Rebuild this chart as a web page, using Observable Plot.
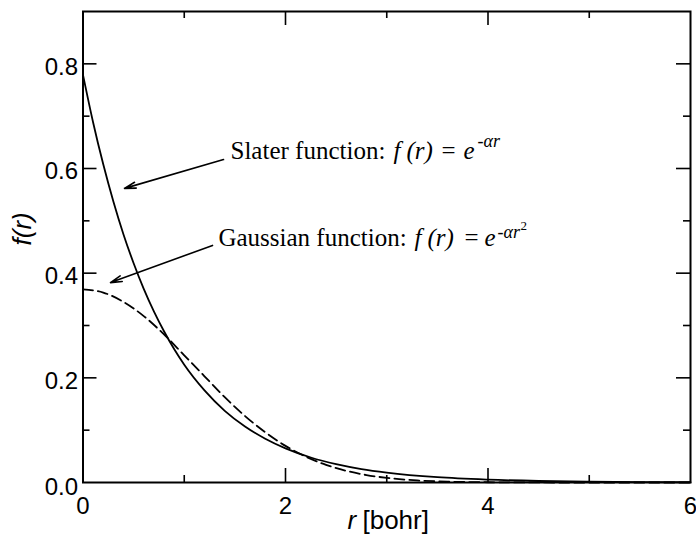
<!DOCTYPE html>
<html>
<head>
<meta charset="utf-8">
<script src="https://cdn.jsdelivr.net/npm/d3@7"></script>
<script src="https://cdn.jsdelivr.net/npm/@observablehq/plot@0.6"></script>
<style>
  html, body { margin: 0; padding: 0; background: #fff; }
</style>
</head>
<body>
<div id="chart"></div>
<script>
// Slater-type orbital (solid line)
const rSlater = [0, 0.1, 0.2, 0.3, 0.4, 0.5, 0.6, 0.7, 0.8, 0.9, 1.0, 1.2, 1.4, 1.6, 1.8, 2.0, 2.25, 2.5, 2.75, 3.0, 3.5, 4.0, 4.5, 5.0, 5.5, 6.0];
const fSlater = [0.779, 0.688, 0.608, 0.537, 0.474, 0.419, 0.370, 0.327, 0.289, 0.255, 0.225, 0.176, 0.137, 0.107, 0.0836, 0.0652, 0.0478, 0.0351, 0.0257, 0.0189, 0.0101, 0.0055, 0.0029, 0.0016, 0.0009, 0.0005];

// Gaussian-type orbital (dashed line)
const rGauss = [0, 0.2, 0.4, 0.6, 0.8, 1.0, 1.2, 1.4, 1.6, 1.8, 2.0, 2.2, 2.4, 2.6, 2.8, 3.0, 3.3, 3.6, 4.0, 4.5, 5.0, 6.0];
const fGauss = [0.369, 0.363, 0.345, 0.318, 0.283, 0.243, 0.203, 0.163, 0.127, 0.096, 0.070, 0.0494, 0.0337, 0.0223, 0.0142, 0.0088, 0.0040, 0.0017, 0.0005, 0.0001, 0, 0];

// Axis ticks
const xMajor = [0, 2, 4, 6];
const xMinor = [1, 3, 5];
const yMajor = [0, 0.2, 0.4, 0.6, 0.8];
const yMinor = [0.1, 0.3, 0.5, 0.7];

// Annotation texts
const slaterName = "Slater function:";
const gaussName = "Gaussian function:";

const slater = rSlater.map((r, i) => ({r, f: fSlater[i]}));
const gauss = rGauss.map((r, i) => ({r, f: fGauss[i]}));

const W = 696, H = 539;
const mL = 82.5, mR = 6, mT = 11, mB = 57;
const pw = W - mL - mR, ph = H - mT - mB;
const sans = "'Liberation Sans', Arial, Helvetica, sans-serif";
const serif = "'Liberation Serif', 'Times New Roman', Times, serif";
const majorLen = 14, minorLen = 7;
const annFont = 25, supFont = 18;

const chart = Plot.plot({
  width: W,
  height: H,
  marginLeft: mL,
  marginRight: mR,
  marginTop: mT,
  marginBottom: mB,
  style: {fontFamily: sans, fontSize: "24px", color: "#000", background: "#fff"},
  x: {domain: [0, 6]},
  y: {domain: [0, 0.9]},
  marks: [
    // inward ticks
    Plot.tickY(yMajor.filter(d => d > 0), {y: d => d, insetRight: pw - majorLen, strokeWidth: 1.6}),
    Plot.tickY(yMinor, {y: d => d, insetRight: pw - minorLen, strokeWidth: 1.6}),
    Plot.tickY(yMajor.filter(d => d > 0), {y: d => d, insetLeft: pw - majorLen, strokeWidth: 1.6}),
    Plot.tickY(yMinor, {y: d => d, insetLeft: pw - minorLen, strokeWidth: 1.6}),
    Plot.tickX(xMajor.filter(d => d > 0 && d < 6), {x: d => d, insetTop: ph - majorLen, strokeWidth: 1.6}),
    Plot.tickX(xMinor, {x: d => d, insetTop: ph - minorLen, strokeWidth: 1.6}),
    Plot.tickX(xMajor.filter(d => d > 0 && d < 6), {x: d => d, insetBottom: ph - majorLen, strokeWidth: 1.6}),
    Plot.tickX(xMinor, {x: d => d, insetBottom: ph - minorLen, strokeWidth: 1.6}),
    // axes labels
    Plot.axisX({ticks: xMajor, tickSize: 0, tickPadding: 14, tickFormat: d3.format("d"), label: null, fontSize: 24}),
    Plot.axisY({ticks: yMajor.filter(d => d > 0), tickSize: 0, tickPadding: 5, tickFormat: d3.format(".1f"), label: null, fontSize: 24, dy: 3}),
    Plot.axisY({ticks: [0], tickSize: 0, tickPadding: 5, tickFormat: d3.format(".1f"), label: null, fontSize: 24, dy: 5}),
    Plot.frame({stroke: "#000", strokeWidth: 2}),
    // curves
    Plot.line(slater, {x: "r", y: "f", stroke: "#000", strokeWidth: 1.8, curve: "monotone-x"}),
    Plot.line(gauss, {x: "r", y: "f", stroke: "#000", strokeWidth: 1.8, strokeDasharray: "10,5", curve: "monotone-x"}),
    // arrows
    Plot.arrow([0], {x1: 1.388, y1: 0.617, x2: 0.41, y2: 0.562, stroke: "#000", strokeWidth: 1.6, headLength: 11, headAngle: 30}),
    Plot.arrow([0], {x1: 1.279, y1: 0.453, x2: 0.272, y2: 0.382, stroke: "#000", strokeWidth: 1.6, headLength: 11, headAngle: 30}),
    // Slater annotation
    Plot.text([slaterName], {x: 1.457, y: 0.619, text: d => d, textAnchor: "start", lineAnchor: "bottom", fontFamily: serif, fontSize: annFont}),
    Plot.text(["f"], {x: 1.457, y: 0.619, text: d => d, dx: 163, textAnchor: "start", lineAnchor: "bottom", fontFamily: serif, fontStyle: "italic", fontSize: annFont}),
    Plot.text(["(r)"], {x: 1.457, y: 0.619, text: d => d, dx: 176, textAnchor: "start", lineAnchor: "bottom", fontFamily: serif, fontStyle: "italic", fontSize: annFont}),
    Plot.text(["="], {x: 1.457, y: 0.619, text: d => d, dx: 211, textAnchor: "start", lineAnchor: "bottom", fontFamily: serif, fontSize: annFont}),
    Plot.text(["e"], {x: 1.457, y: 0.619, text: d => d, dx: 233, textAnchor: "start", lineAnchor: "bottom", fontFamily: serif, fontStyle: "italic", fontSize: annFont}),
    Plot.text(["-αr"], {x: 1.457, y: 0.619, text: d => d, dx: 247, dy: -12, textAnchor: "start", lineAnchor: "bottom", fontFamily: serif, fontStyle: "italic", fontSize: supFont}),
    // Gaussian annotation
    Plot.text([gaussName], {x: 1.338, y: 0.451, text: d => d, textAnchor: "start", lineAnchor: "bottom", fontFamily: serif, fontSize: annFont}),
    Plot.text(["f"], {x: 1.338, y: 0.451, text: d => d, dx: 196, textAnchor: "start", lineAnchor: "bottom", fontFamily: serif, fontStyle: "italic", fontSize: annFont}),
    Plot.text(["(r)"], {x: 1.338, y: 0.451, text: d => d, dx: 209, textAnchor: "start", lineAnchor: "bottom", fontFamily: serif, fontStyle: "italic", fontSize: annFont}),
    Plot.text(["="], {x: 1.338, y: 0.451, text: d => d, dx: 246, textAnchor: "start", lineAnchor: "bottom", fontFamily: serif, fontSize: annFont}),
    Plot.text(["e"], {x: 1.338, y: 0.451, text: d => d, dx: 266, textAnchor: "start", lineAnchor: "bottom", fontFamily: serif, fontStyle: "italic", fontSize: annFont}),
    Plot.text(["-αr"], {x: 1.338, y: 0.451, text: d => d, dx: 279, dy: -8, textAnchor: "start", lineAnchor: "bottom", fontFamily: serif, fontStyle: "italic", fontSize: supFont}),
    Plot.text(["2"], {x: 1.338, y: 0.451, text: d => d, dx: 302, dy: -16, textAnchor: "start", lineAnchor: "bottom", fontFamily: serif, fontSize: 13}),
    // axis titles
    Plot.text(["r"], {x: 2.612, frameAnchor: "bottom", dy: 46, text: d => d, textAnchor: "start", fontStyle: "italic", fontSize: 26}),
    Plot.text(["[bohr]"], {x: 2.612, frameAnchor: "bottom", dy: 46, dx: 15, text: d => d, textAnchor: "start", fontSize: 26}),
    Plot.text(["f(r)"], {frameAnchor: "left", y: 0.453, dx: -60, text: d => d, rotate: -90, fontStyle: "italic", fontSize: 26})
  ]
});
document.getElementById("chart").appendChild(chart);
</script>
</body>
</html>
